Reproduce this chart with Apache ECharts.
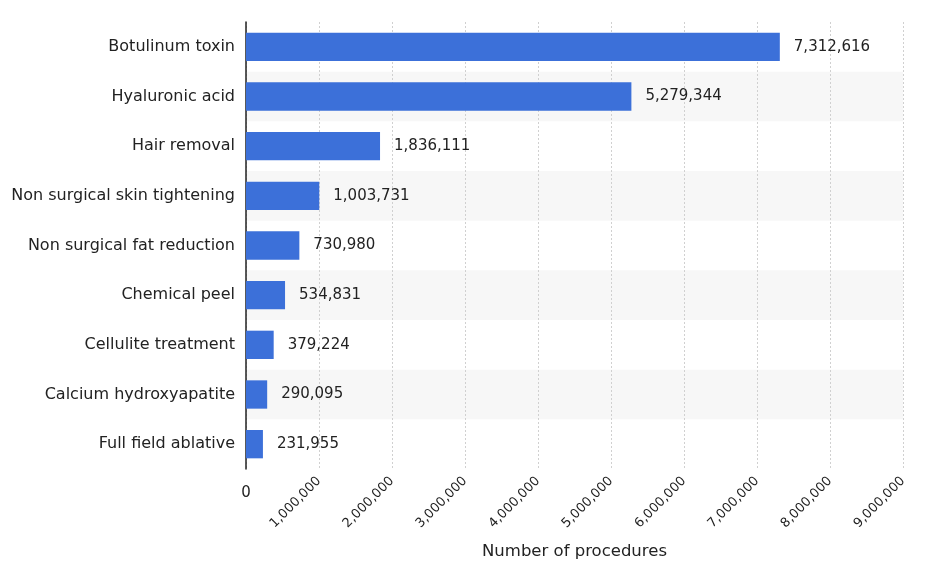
<!DOCTYPE html>
<html>
<head>
<meta charset="utf-8">
<script src="https://cdn.jsdelivr.net/npm/echarts@6/dist/echarts.min.js"></script>
<style>html,body{margin:0;padding:0;background:#fff}#c{width:940px;height:583px}</style>
</head>
<body>
<div id="c"></div>
<script>
const categories = ["Botulinum toxin","Hyaluronic acid","Hair removal","Non surgical skin tightening","Non surgical fat reduction","Chemical peel","Cellulite treatment","Calcium hydroxyapatite","Full field ablative"];
const values = [7312616,5279344,1836111,1003731,730980,534831,379224,290095,231955];
const axisName = "Number of procedures";
const FONT = "DejaVu Sans";
const fmt = v => v.toLocaleString('en-US');
const chart = echarts.init(document.getElementById('c'), null, {renderer:'canvas'});
chart.setOption({
  animation:false,
  grid:{left:246,right:37,top:22,bottom:114,containLabel:false},
  xAxis:[{type:'value',min:0,max:9000000,interval:1000000,
    axisLine:{show:false},axisTick:{show:false},
    splitLine:{show:true,lineStyle:{color:'#d0d0d0',type:[2,2],width:1}},
    axisLabel:{rotate:45,fontFamily:FONT,fontSize:13,color:'#222',margin:10,formatter:v=>v===0?'':fmt(v)},
    name:axisName,nameLocation:'middle',nameGap:74,nameTextStyle:{fontFamily:FONT,fontSize:16.5,color:'#222'}},
   {type:'value',position:'bottom',min:0,max:9000000,interval:1000000,
    axisLine:{show:false},axisTick:{show:false},splitLine:{show:false},
    axisLabel:{rotate:0,fontFamily:FONT,fontSize:15,color:'#222',margin:17,formatter:v=>v===0?'0':''}}],
  yAxis:{type:'category',data:categories,inverse:true,
    axisLine:{show:true,lineStyle:{color:'#222',width:1.5}},axisTick:{show:false},
    axisLabel:{fontFamily:FONT,fontSize:16,color:'#222',margin:11},
    splitArea:{show:true,areaStyle:{color:['rgba(255,255,255,0)','#f7f7f7']}}},
  series:[{type:'bar',data:values,barWidth:'57%',itemStyle:{color:'#3c70d9'},
    label:{show:true,position:'right',distance:14,fontFamily:FONT,fontSize:15,color:'#222',formatter:p=>fmt(p.value)}}]
});
</script>
</body>
</html>
